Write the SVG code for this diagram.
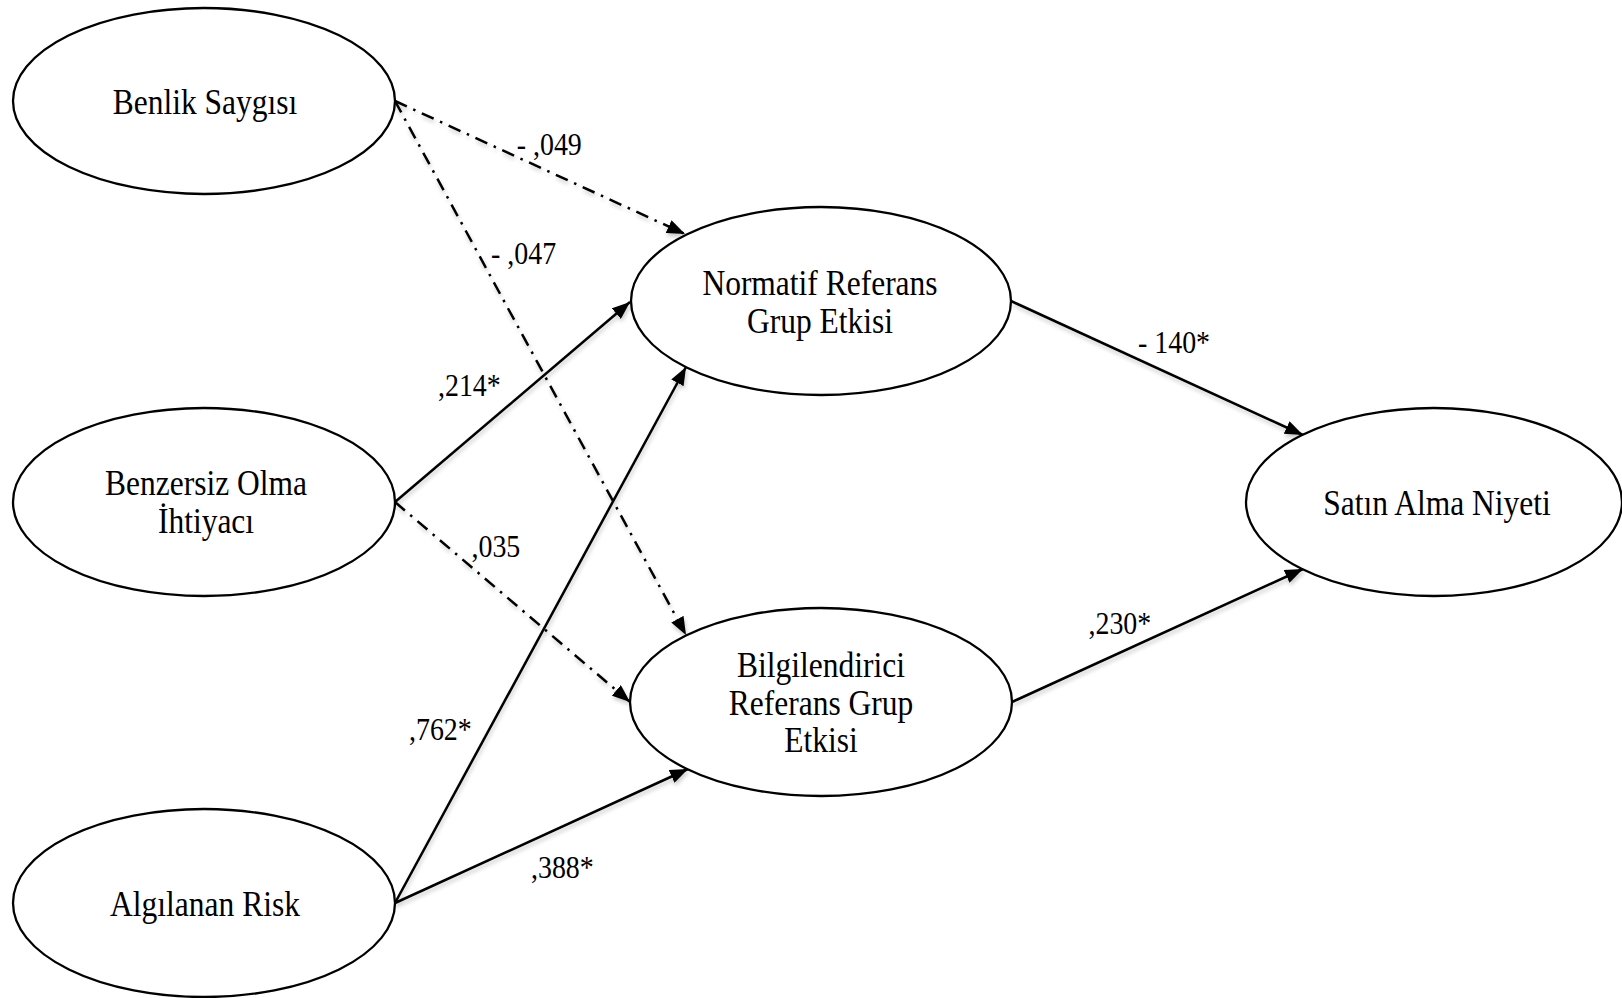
<svg xmlns="http://www.w3.org/2000/svg" width="1622" height="998" viewBox="0 0 1622 998">
  <style>
    .node { fill: #ffffff; stroke: #000000; stroke-width: 2.3; }
    .name { font-family: "Liberation Serif", "Times New Roman", serif; font-size: 35px; fill: #000000; text-anchor: middle; }
    .coef { font-family: "Liberation Serif", "Times New Roman", serif; font-size: 31px; fill: #000000; }
    .path { fill: none; stroke: #000000; stroke-width: 2.5; marker-end: url(#arrow); }
    .ns { stroke-dasharray: 13 7 2.5 7; }
  </style>
  <defs>
    <marker id="arrow" markerUnits="userSpaceOnUse" markerWidth="18" markerHeight="14" refX="18" refY="7" orient="auto">
      <path d="M0,0 L18,7 L0,14 Z" fill="#000000"/>
    </marker>
    <filter id="soft" x="-5%" y="-5%" width="110%" height="110%">
      <feGaussianBlur in="SourceAlpha" stdDeviation="2"/>
      <feOffset dx="1" dy="3" result="blur"/>
      <feComponentTransfer>
        <feFuncA type="linear" slope="0.22"/>
      </feComponentTransfer>
      <feMerge>
        <feMergeNode/>
        <feMergeNode in="SourceGraphic"/>
      </feMerge>
    </filter>
  </defs>
  <rect width="1622" height="998" fill="#ffffff"/>

  <!-- structural paths -->
  <g id="connectors" filter="url(#soft)">
    <line class="path ns" x1="395" y1="101" x2="685" y2="234"/>
    <line class="path ns" x1="395" y1="101" x2="686" y2="635"/>
    <line class="path" x1="395" y1="502" x2="630" y2="302"/>
    <line class="path ns" x1="395" y1="502" x2="630" y2="702"/>
    <line class="path" x1="395" y1="903" x2="686" y2="367"/>
    <line class="path" x1="395" y1="903" x2="688" y2="769"/>
    <line class="path" x1="1011" y1="301" x2="1303" y2="435"/>
    <line class="path" x1="1012" y1="702" x2="1303" y2="569"/>
  </g>

  <!-- path coefficients -->
  <g id="coefficients">
    <text class="coef" transform="matrix(0.9 0 0 1 516.7 155)">- ,049</text>
    <text class="coef" transform="matrix(0.9 0 0 1 491 264)">- ,047</text>
    <text class="coef" transform="matrix(0.9 0 0 1 438 395.5)">,214*</text>
    <text class="coef" transform="matrix(0.9 0 0 1 471.5 557)">,035</text>
    <text class="coef" transform="matrix(0.9 0 0 1 409 740)">,762*</text>
    <text class="coef" transform="matrix(0.9 0 0 1 531 878)">,388*</text>
    <text class="coef" transform="matrix(0.9 0 0 1 1138 353)">- 140*</text>
    <text class="coef" transform="matrix(0.9 0 0 1 1088.5 634)">,230*</text>
  </g>

  <g id="benlik">
    <ellipse class="node" cx="204" cy="101" rx="191" ry="93"/>
    <text class="name" transform="matrix(0.9 0 0 1 205 113.5)">Benlik Saygısı</text>
  </g>

  <g id="benzersiz">
    <ellipse class="node" cx="204" cy="502" rx="191" ry="94"/>
    <text class="name" transform="matrix(0.9 0 0 1 206 495)">Benzersiz Olma</text>
    <text class="name" transform="matrix(0.9 0 0 1 206 533)">İhtiyacı</text>
  </g>

  <g id="algilanan">
    <ellipse class="node" cx="204" cy="903" rx="191" ry="94"/>
    <text class="name" transform="matrix(0.9 0 0 1 205 916)">Algılanan Risk</text>
  </g>

  <g id="normatif">
    <ellipse class="node" cx="821" cy="301" rx="190" ry="94"/>
    <text class="name" transform="matrix(0.9 0 0 1 820 295)">Normatif Referans</text>
    <text class="name" transform="matrix(0.9 0 0 1 820 332.5)">Grup Etkisi</text>
  </g>

  <g id="bilgilendirici">
    <ellipse class="node" cx="821" cy="702" rx="191" ry="94"/>
    <text class="name" transform="matrix(0.9 0 0 1 821 676.5)">Bilgilendirici</text>
    <text class="name" transform="matrix(0.9 0 0 1 821 714.5)">Referans Grup</text>
    <text class="name" transform="matrix(0.9 0 0 1 821 752)">Etkisi</text>
  </g>

  <g id="satin">
    <ellipse class="node" cx="1434" cy="502" rx="188" ry="94"/>
    <text class="name" transform="matrix(0.9 0 0 1 1437 515)">Satın Alma Niyeti</text>
  </g>
</svg>
